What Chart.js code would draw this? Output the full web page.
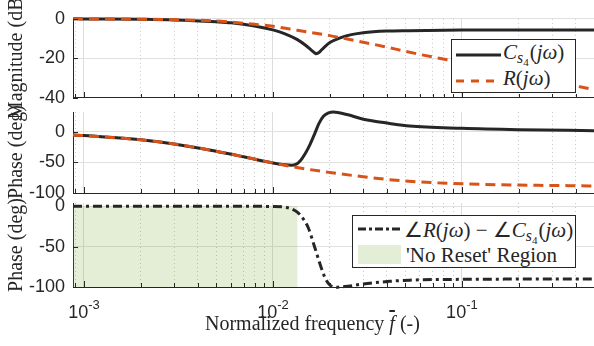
<!DOCTYPE html>
<html>
<head>
<meta charset="utf-8">
<script src="https://cdn.jsdelivr.net/npm/chart.js@4.4.0/dist/chart.umd.min.js"></script>
<style>
  html, body { margin: 0; padding: 0; background: #fff; }
  #wrap { position: relative; width: 594px; height: 346px; overflow: hidden; }
  #wrap canvas { position: absolute; left: 0; top: 0; }
  .serif { font-family: "Liberation Serif", "Times New Roman", serif; color: #262626; }
  .ytitle { position: absolute; left: 15px; width: 0; height: 0; }
  .ytitle span { position: absolute; left: 0; top: 0; white-space: nowrap; font-size: 20px; line-height: 20px;
                 transform: translate(-50%, -50%) rotate(-90deg); }
  .legend { position: absolute; background: #fff; border: 1px solid #262626; box-sizing: border-box; }
  .legend .txt { position: absolute; white-space: nowrap; font-size: 21px; line-height: 21px; }
  .legend svg { position: absolute; left: 0; top: 0; }
  sub { font-size: 0.75em; vertical-align: -0.25em; line-height: 0; margin-right: 1px; }
  sub sub { font-size: 0.7em; margin-right: 0; }
  #xtitle { position: absolute; left: 205px; top: 313px; font-size: 20px; line-height: 20px; white-space: nowrap; }
</style>
</head>
<body>
<div id="wrap">
  <canvas id="mag" width="594" height="346"></canvas>
  <canvas id="phase" width="594" height="346"></canvas>
  <canvas id="diff" width="594" height="346"></canvas>

  <div class="ytitle serif" style="top:55px"><span>Magnitude (dB)</span></div>
  <div class="ytitle serif" style="top:152px"><span>Phase (deg)</span></div>
  <div class="ytitle serif" style="top:245px"><span>Phase (deg)</span></div>

  <div id="xtitle" class="serif">Normalized frequency <i style="text-decoration: overline">f</i> (-)</div>

  <div class="legend serif" style="left:451px; top:39px; width:125px; height:54px;">
    <svg width="125" height="54">
      <line x1="4" y1="15" x2="49" y2="15" stroke="#262626" stroke-width="3"/>
      <line x1="4" y1="41" x2="49" y2="41" stroke="#D95319" stroke-width="3" stroke-dasharray="8 7"/>
    </svg>
    <div class="txt" style="left:51px; top:2px"><i>C</i><sub><i>s</i><sub>4</sub></sub>(<i>jω</i>)</div>
    <div class="txt" style="left:51px; top:28px"><i>R</i>(<i>jω</i>)</div>
  </div>

  <div class="legend serif" style="left:352px; top:215px; width:224px; height:53px;">
    <svg width="224" height="53">
      <line x1="5" y1="13" x2="48" y2="13" stroke="#262626" stroke-width="3" stroke-dasharray="8 3 3 3"/>
      <rect x="5" y="29" width="43" height="19" fill="rgba(119,172,48,0.2)"/>
    </svg>
    <div class="txt" style="left:51px; top:4px">∠<i>R</i>(<i>jω</i>) − ∠<i>C</i><sub><i>s</i><sub>4</sub></sub>(<i>jω</i>)</div>
    <div class="txt" style="left:53px; top:29px">'No Reset' Region</div>
  </div>
</div>

<script>
// x range and tick positions
const freqMin = 0.000875;
const freqMax = 0.5;
const decadeTicks = [0.001, 0.01, 0.1];
const decadeExps = ['-3', '-2', '-1'];
const gridTicks = [0.0009, 0.001, 0.002, 0.003, 0.004, 0.005, 0.006, 0.007, 0.008, 0.009,
                   0.01, 0.02, 0.03, 0.04, 0.05, 0.06, 0.07, 0.08, 0.09,
                   0.1, 0.2, 0.3, 0.4];
const magTicks = [-40, -20, 0];
const phaseTicks = [-100, -50, 0];
const diffTicks = [-100, -50, 0];

// magnitude (dB)
const freqMagR = [0.000875, 0.001, 0.002, 0.003, 0.005, 0.006, 0.008, 0.01, 0.0123, 0.015, 0.02, 0.0227,
                  0.03, 0.04, 0.05, 0.07, 0.1, 0.15, 0.2, 0.3, 0.5];
const magR = [0, -0.05, -0.2, -0.45, -1.1, -1.7, -2.8, -3.8, -5.2, -6.5, -8.5, -9.5,
              -11.8, -14.3, -16.4, -19.3, -22, -25.5, -28, -31.5, -35.8];
const freqMagC = [0.000875, 0.001, 0.002, 0.003, 0.005, 0.006, 0.008, 0.01, 0.0115, 0.0134, 0.015, 0.016,
                  0.0166, 0.0169, 0.0173, 0.0178, 0.0185, 0.0201, 0.0227, 0.026, 0.0301, 0.04, 0.0528, 0.1, 0.2, 0.5];
const magC = [0, -0.05, -0.25, -0.55, -1.5, -2.0, -3.6, -5.6, -7.5, -10.4, -13.6, -15.9,
              -17.2, -17.6, -17.3, -16.4, -14.8, -11.9, -9.6, -8.0, -7.0, -6.2, -6.0, -5.7, -5.6, -5.6];

// phase (deg)
const freqPhaseR = [0.000875, 0.001, 0.002, 0.003, 0.005, 0.007, 0.01, 0.0134, 0.02, 0.03, 0.05, 0.1, 0.2, 0.5];
const phaseR = [-5.5, -6.4, -13.4, -20, -32, -41, -51, -58.5, -66.5, -73.5, -80.5, -85, -87, -88.5];
const freqPhaseC = [0.000875, 0.001, 0.002, 0.003, 0.005, 0.007, 0.01, 0.0115, 0.0125, 0.0133, 0.014, 0.0148, 0.0157,
                    0.0167, 0.0175, 0.0185, 0.0197, 0.0209, 0.0246, 0.0301, 0.0414, 0.0528, 0.1, 0.2, 0.5];
const phaseC = [-5.5, -6.4, -13.4, -20, -32, -41, -51, -53.8, -54.8, -53, -47, -36, -21,
                -2, 13, 25, 30.5, 32, 27.8, 20.3, 13.4, 9.1, 5.4, 3.2, 1.6];

// phase difference and no-reset region
const freqDiff = [0.000875, 0.005, 0.01, 0.0118, 0.0134, 0.0145, 0.0154, 0.0167, 0.0178, 0.0189, 0.0201,
                  0.0217, 0.024, 0.0301, 0.0414, 0.0528, 0.1, 0.2, 0.5];
const phaseDiff = [0, 0, -0.3, -1.5, -7, -16, -27, -52, -72.5, -89, -98,
                   -100.4, -99.5, -96.3, -93, -91.5, -90.5, -90.2, -90];
const noResetX = [0.000875, 0.0135];
const noResetY = [0, 0];

const lineColor = '#262626';
const redColor = '#D95319';

function toPoints(xs, ys) {
    return xs.map((x, i) => ({ x: x, y: ys[i] }));
}

function isDecade(t) {
    return !!t && decadeTicks.some(d => Math.abs(t.value - d) < d * 1e-6);
}

// MATLAB style ticks pointing into the axes
const inwardTicks = {
    id: 'inwardTicks',
    afterDraw(chart) {
        const { ctx, chartArea: a, scales: { x, y } } = chart;
        ctx.save();
        ctx.strokeStyle = lineColor;
        ctx.lineWidth = 1;
        ctx.beginPath();
        x.ticks.forEach(t => {
            const px = Math.round(x.getPixelForValue(t.value)) + 0.5;
            const len = isDecade(t) ? 6 : 4;
            ctx.moveTo(px, a.bottom);
            ctx.lineTo(px, a.bottom - len);
        });
        y.ticks.forEach(t => {
            const py = Math.round(y.getPixelForValue(t.value)) + 0.5;
            ctx.moveTo(a.left, py);
            ctx.lineTo(a.left + 5, py);
        });
        ctx.stroke();
        ctx.restore();
    }
};

// 10^n labels under the bottom plot
const decadeLabels = {
    id: 'decadeLabels',
    afterDraw(chart) {
        const { ctx, scales: { x } } = chart;
        ctx.save();
        ctx.fillStyle = lineColor;
        ctx.textBaseline = 'alphabetic';
        decadeTicks.forEach((v, i) => {
            const px = x.getPixelForValue(v);
            ctx.font = '18px "Liberation Sans"';
            const wBase = ctx.measureText('10').width;
            ctx.font = '13px "Liberation Sans"';
            const wExp = ctx.measureText(decadeExps[i]).width;
            const left = px - (wBase + wExp) / 2;
            ctx.font = '18px "Liberation Sans"';
            ctx.fillText('10', left, 318);
            ctx.font = '13px "Liberation Sans"';
            ctx.fillText(decadeExps[i], left + wBase, 309);
        });
        ctx.restore();
    }
};

function makeOptions(top, bottom, yMin, yMax, yTicks) {
    return {
        responsive: false,
        animation: false,
        devicePixelRatio: 1,
        events: [],
        layout: { padding: { top: top, left: 0, right: 0, bottom: 0 } },
        plugins: { legend: { display: false }, tooltip: { enabled: false } },
        scales: {
            x: {
                type: 'logarithmic',
                min: freqMin,
                max: freqMax,
                afterBuildTicks: s => { s.ticks = gridTicks.map(v => ({ value: v })); },
                afterFit: s => { s.height = 346 - bottom; },
                ticks: { display: false },
                grid: {
                    color: ctx => isDecade(ctx.tick) ? '#dcdcdc' : '#c8c8c8',
                    lineWidth: 1,
                    drawTicks: false
                },
                border: {
                    display: true, color: lineColor, width: 1,
                    dash: ctx => (ctx.tick && !isDecade(ctx.tick)) ? [1, 3] : []
                }
            },
            y: {
                min: yMin,
                max: yMax,
                afterBuildTicks: s => { s.ticks = yTicks.map(v => ({ value: v })); },
                afterFit: s => { s.width = 73; },
                ticks: { font: { family: 'Liberation Sans', size: 18 }, color: lineColor, padding: 8 },
                grid: { color: '#e0e0e0', drawTicks: false },
                border: { display: true, color: lineColor, width: 1 }
            }
        }
    };
}

const lineBase = { pointRadius: 0, borderWidth: 3, cubicInterpolationMode: 'monotone', clip: 4, fill: false };

new Chart(document.getElementById('mag'), {
    type: 'line',
    data: {
        datasets: [
            Object.assign({ data: toPoints(freqMagR, magR), borderColor: redColor, borderDash: [10, 6] }, lineBase),
            Object.assign({ data: toPoints(freqMagC, magC), borderColor: lineColor }, lineBase)
        ]
    },
    options: makeOptions(13, 98, -40, 0, magTicks),
    plugins: [inwardTicks]
});

new Chart(document.getElementById('phase'), {
    type: 'line',
    data: {
        datasets: [
            Object.assign({ data: toPoints(freqPhaseR, phaseR), borderColor: redColor, borderDash: [10, 6] }, lineBase),
            Object.assign({ data: toPoints(freqPhaseC, phaseC), borderColor: lineColor }, lineBase)
        ]
    },
    options: makeOptions(112, 193, -100, 32, phaseTicks),
    plugins: [inwardTicks]
});

new Chart(document.getElementById('diff'), {
    type: 'line',
    data: {
        datasets: [
            Object.assign({ data: toPoints(freqDiff, phaseDiff), borderColor: lineColor, borderDash: [9, 4, 3, 4] }, lineBase),
            {
                data: toPoints(noResetX, noResetY),
                borderWidth: 0,
                pointRadius: 0,
                backgroundColor: 'rgba(119,172,48,0.2)',
                fill: 'start'
            }
        ]
    },
    options: makeOptions(203, 287, -100, 4, diffTicks),
    plugins: [inwardTicks, decadeLabels]
});
</script>
</body>
</html>
